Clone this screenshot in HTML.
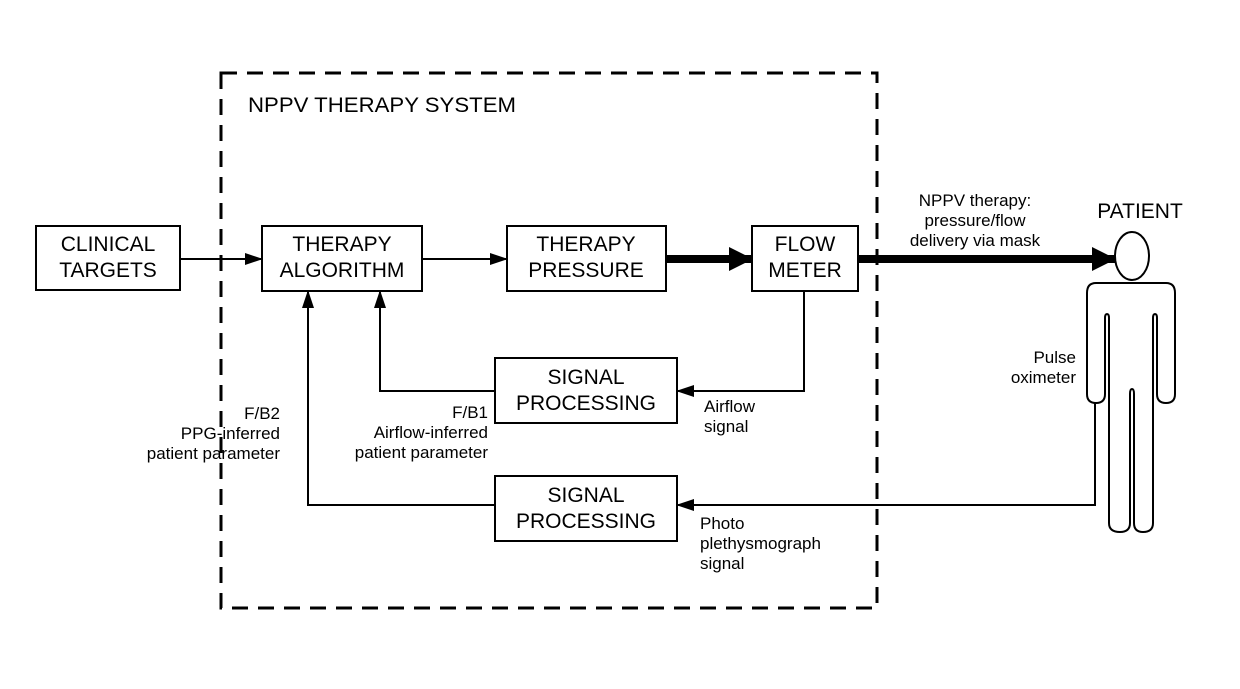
<!DOCTYPE html>
<html><head><meta charset="utf-8"><style>body{margin:0;background:#fff}svg{display:block}text{font-family:"Liberation Sans",Arial,sans-serif;fill:#000}</style></head>
<body>
<svg width="1240" height="689" viewBox="0 0 1240 689">
<defs>
<marker id="a" markerWidth="18" markerHeight="12" refX="17" refY="6" orient="auto" markerUnits="userSpaceOnUse"><path d="M0,0 L18,6 L0,12 Z"/></marker>
<marker id="b" markerWidth="24" markerHeight="24" refX="23" refY="12" orient="auto" markerUnits="userSpaceOnUse"><path d="M0,0 L24,12 L0,24 Z"/></marker>
</defs>
<rect x="221" y="73" width="656" height="535" fill="none" stroke="#000" stroke-width="3" stroke-dasharray="16,10"/>
<text x="248" y="112" font-size="21" textLength="268" lengthAdjust="spacingAndGlyphs">NPPV THERAPY SYSTEM</text>
<g fill="none" stroke="#000" stroke-width="2">
<rect x="36" y="226" width="144" height="64"/>
<rect x="262" y="226" width="160" height="65"/>
<rect x="507" y="226" width="159" height="65"/>
<rect x="752" y="226" width="106" height="65"/>
<rect x="495" y="358" width="182" height="65"/>
<rect x="495" y="476" width="182" height="65"/>
<line x1="180" y1="259" x2="262" y2="259" marker-end="url(#a)"/>
<line x1="422" y1="259" x2="507" y2="259" marker-end="url(#a)"/>
<polyline points="804,291 804,391 677,391" marker-end="url(#a)"/>
<polyline points="495,391 380,391 380,291" marker-end="url(#a)"/>
<polyline points="1095,402 1095,505 677,505" marker-end="url(#a)"/>
<polyline points="495,505 308,505 308,291" marker-end="url(#a)"/>
<ellipse cx="1132" cy="256" rx="17" ry="24"/>
<path d="M1096,283 H1166 Q1175,283 1175,293 V394 Q1175,403 1166,403 Q1157,403 1157,394 V318 Q1157,314 1155,314 Q1153,314 1153,318 V523 Q1153,532 1143,532 Q1134,532 1134,523 V394 Q1134,389 1132,389 Q1130,389 1130,394 V523 Q1130,532 1120,532 Q1109,532 1109,523 V318 Q1109,314 1107,314 Q1105,314 1105,318 V394 Q1105,403 1096,403 Q1087,403 1087,394 V293 Q1087,283 1096,283 Z"/>
</g>
<g stroke="#000" stroke-width="8" fill="none">
<line x1="666" y1="259" x2="752" y2="259" marker-end="url(#b)"/>
<line x1="858" y1="259" x2="1115" y2="259" marker-end="url(#b)"/>
</g>
<g font-size="21" text-anchor="middle">
<text x="108" y="251">CLINICAL</text><text x="108" y="277">TARGETS</text>
<text x="342" y="251">THERAPY</text><text x="342" y="277">ALGORITHM</text>
<text x="586" y="251">THERAPY</text><text x="586" y="277">PRESSURE</text>
<text x="805" y="251">FLOW</text><text x="805" y="277">METER</text>
<text x="586" y="384">SIGNAL</text><text x="586" y="410">PROCESSING</text>
<text x="586" y="502">SIGNAL</text><text x="586" y="528">PROCESSING</text>
<text x="1140" y="218">PATIENT</text>
</g>
<g font-size="17">
<g text-anchor="middle"><text x="975" y="206">NPPV therapy:</text><text x="975" y="226">pressure/flow</text><text x="975" y="246">delivery via mask</text></g>
<g text-anchor="end"><text x="1076" y="363">Pulse</text><text x="1076" y="383">oximeter</text>
<text x="280" y="419">F/B2</text><text x="280" y="439">PPG-inferred</text><text x="280" y="459">patient parameter</text>
<text x="488" y="418">F/B1</text><text x="488" y="438">Airflow-inferred</text><text x="488" y="458">patient parameter</text></g>
<text x="704" y="412">Airflow</text><text x="704" y="432">signal</text>
<text x="700" y="529">Photo</text><text x="700" y="549">plethysmograph</text><text x="700" y="569">signal</text>
</g>
</svg>
</body></html>
